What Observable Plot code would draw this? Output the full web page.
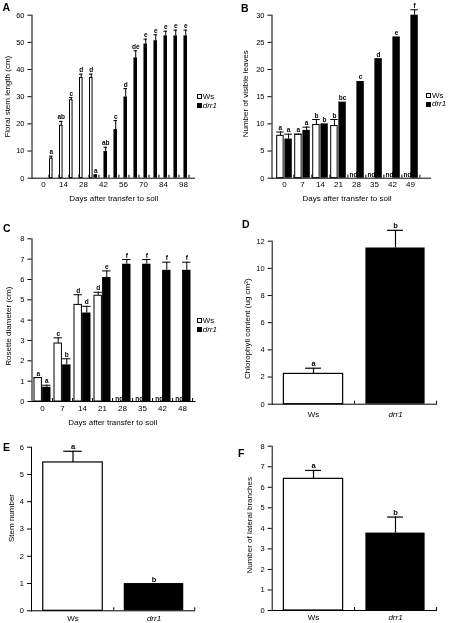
<!DOCTYPE html>
<html><head><meta charset="utf-8">
<script src="https://cdn.jsdelivr.net/npm/d3@7"></script>
<script src="https://cdn.jsdelivr.net/npm/@observablehq/plot@0.6"></script>
<style>
body{margin:0;background:#fff}
#fig{position:relative;width:462px;height:623px;font-family:"Liberation Sans",Arial,sans-serif;overflow:hidden;background:#fff;color:#000;filter:grayscale(1)}
.panel{position:absolute}
.panel svg{overflow:visible}
.letter{position:absolute;font-weight:bold;font-size:10.5px;line-height:10.5px}
.leg{position:absolute;font-size:8px;line-height:8px;display:flex;align-items:center;height:5px}
.sw{width:3px;height:3px;border:1px solid #000;margin-right:1px;box-sizing:content-box}
</style></head><body><div id="fig"></div>
<script>
// ---------- data ----------
// Panel A: floral stem length (cm)
const daysA = [0, 7, 14, 21, 28, 35, 42, 49, 56, 63, 70, 77, 84, 91, 98];
const tickDaysA = [0, 14, 28, 42, 56, 70, 84, 98];
const yTicksA = [0, 10, 20, 30, 40, 50, 60];
const wsDaysA = [7, 14, 21, 28, 35];
const wsMeanA = [7.2, 19.3, 28.7, 36.9, 36.9];
const wsErrA = [0.9, 1.6, 1.0, 1.4, 1.4];
const wsSigA = ["a", "ab", "c", "d", "d"];
const drrDaysA = [35, 42, 49, 56, 63, 70, 77, 84, 91, 98];
const drrMeanA = [1.3, 9.8, 17.9, 29.9, 44.3, 49.4, 50.6, 52.4, 52.4, 52.4];
const drrErrA = [0, 1.6, 3.3, 3.1, 2.6, 1.8, 2.2, 1.7, 2.1, 2.1];
const drrSigA = ["a", "ab", "c", "d", "de", "e", "e", "e", "e", "e"];

// Panel B: number of visible leaves
const daysB = [0, 7, 14, 21, 28, 35, 42, 49];
const yTicksB = [0, 5, 10, 15, 20, 25, 30];
const wsDaysB = [0, 7, 14, 21];
const wsMeanB = [7.8, 8.0, 9.8, 9.6];
const wsErrB = [0.7, 0.1, 1.0, 1.2];
const wsSigB = ["a", "a", "b", "b"];
const ndDaysB = [28, 35, 42, 49];
const drrMeanB = [7.2, 8.8, 10.0, 14.0, 17.8, 22.0, 26.0, 30.0];
const drrErrB = [0.9, 0.6, 0, 0, 0, 0, 0, 1.0];
const drrSigB = ["a", "a", "b", "bc", "c", "d", "e", "f"];

// Panel C: rosette diameter (cm)
const daysC = [0, 7, 14, 21, 28, 35, 42, 48];
const yTicksC = [0, 1, 2, 3, 4, 5, 6, 7, 8];
const wsDaysC = [0, 7, 14, 21];
const wsMeanC = [1.15, 2.85, 4.75, 5.2];
const wsErrC = [0.03, 0.28, 0.5, 0.17];
const wsSigC = ["a", "c", "d", "d"];
const ndDaysC = [28, 35, 42, 48];
const drrMeanC = [0.7, 1.8, 4.35, 6.1, 6.75, 6.75, 6.45, 6.45];
const drrErrC = [0.1, 0.3, 0.33, 0.32, 0.23, 0.23, 0.4, 0.4];
const drrSigC = ["a", "b", "d", "e", "f", "f", "f", "f"];

// Panels D, E, F
const genotypes = ["Ws", "drr1"];
const yTicksD = [0, 2, 4, 6, 8, 10, 12];
const meanD = [2.23, 11.5];
const errD = [0.42, 1.3];
const sigD = ["a", "b"];
const yTicksE = [0, 1, 2, 3, 4, 5, 6];
const meanE = [5.44, 1.0];
const errE = [0.41, 0];
const sigE = ["a", "b"];
const yTicksF = [0, 1, 2, 3, 4, 5, 6, 7, 8];
const meanF = [6.41, 3.77];
const errF = [0.41, 0.78];
const sigF = ["a", "b"];

// ---------- helpers ----------
const FONT = '"Liberation Sans", Arial, sans-serif';
const fig = document.getElementById("fig");

function place(el, left, top) {
  const d = document.createElement("div");
  d.className = "panel";
  d.style.left = left + "px";
  d.style.top = top + "px";
  d.appendChild(el);
  fig.appendChild(d);
}

function rows(days, mean, err, sig) {
  return days.map((day, i) => ({day, mean: mean[i], err: err[i], sig: sig[i]}));
}

function grouped(cfg) {
  const {days, ws, drr, nd = [], yTicks, tickDays, title, titleOffset, titleShift = 0,
    left, top, width, height, mL, mR, mT, mB, outer, xPad, axisExtra = 0} = cfg;
  const g = (width - mL - mR) / days.length;
  const half = g / 2;
  const off = (half - outer) / 2;
  const yMax = yTicks[yTicks.length - 1];
  const wsE = ws.filter(d => d.err > 0), drrE = drr.filter(d => d.err > 0);
  const plot = Plot.plot({
    width, height, marginLeft: mL, marginRight: mR, marginTop: mT, marginBottom: mB,
    style: {fontFamily: FONT, fontSize: "8px", color: "black", background: "transparent", overflow: "visible"},
    x: {type: "band", domain: days, padding: 0, axis: null},
    y: {domain: [0, yMax], axis: null},
    marks: [
      Plot.barY(ws, {x: "day", y: "mean", fill: "white", stroke: "black", strokeWidth: 1, insetLeft: outer + 0.5, insetRight: half + 0.5}),
      Plot.barY(drr, {x: "day", y: "mean", fill: "black", insetLeft: half, insetRight: outer}),
      Plot.ruleX(wsE, {x: "day", y1: "mean", y2: d => d.mean + d.err, dx: -off, stroke: "black"}),
      Plot.tickY(wsE, {x: "day", y: d => d.mean + d.err, insetLeft: outer, insetRight: half, stroke: "black"}),
      Plot.ruleX(drrE, {x: "day", y1: "mean", y2: d => d.mean + d.err, dx: off, stroke: "black"}),
      Plot.tickY(drrE, {x: "day", y: d => d.mean + d.err, insetLeft: half, insetRight: outer, stroke: "black"}),
      Plot.text(ws, {x: "day", y: d => d.mean + d.err, text: "sig", dx: -off, dy: -2, lineAnchor: "bottom", fontSize: 6.5, fontWeight: "bold", fill: "black"}),
      Plot.text(drr, {x: "day", y: d => d.mean + d.err, text: "sig", dx: off, dy: -2, lineAnchor: "bottom", fontSize: 6.5, fontWeight: "bold", fill: "black"}),
      Plot.text(nd, {x: d => d, y: d => 0, text: d => "nd", dx: -off + 1, dy: -1, lineAnchor: "bottom", fontSize: 6.5, fontWeight: "bold", fill: "black"}),
      Plot.frame({anchor: "left", stroke: "black"}),
      Plot.ruleY([0], {stroke: "black", insetRight: -axisExtra}),
      Plot.axisY(yTicks, {tickSize: 4, tickPadding: 3.5, fontSize: 7.5, label: null}),
      Plot.axisX(tickDays, {tickSize: 0, tickPadding: xPad, fontSize: 8, label: "Days after transfer to soil", labelAnchor: "center", labelOffset: 23, labelArrow: "none"}),
      Plot.axisX(days, {tickSize: -3, tickFormat: () => "", dx: half, label: null}),
      Plot.text([title], {frameAnchor: "left", textAnchor: "middle", rotate: -90, lineAnchor: "top", dx: -titleOffset, dy: titleShift, fontSize: 8, fill: "black"})
    ]
  });
  place(plot, left, top);
}

function pair(cfg) {
  const {mean, err, sig, yTicks, title, titleOffset, titleShift = 0,
    left, top, width, height, mL, mR, mT, mB, barW, capW, xPad} = cfg;
  const data = genotypes.map((g, i) => ({g, mean: mean[i], err: err[i], sig: sig[i]}));
  const step = (width - mL - mR) / genotypes.length;
  const inset = (step - barW) / 2;
  const capInset = (step - capW) / 2;
  const yMax = yTicks[yTicks.length - 1];
  const withErr = data.filter(d => d.err > 0);
  const plot = Plot.plot({
    width, height, marginLeft: mL, marginRight: mR, marginTop: mT, marginBottom: mB,
    style: {fontFamily: FONT, fontSize: "8px", color: "black", background: "transparent", overflow: "visible"},
    x: {type: "band", domain: genotypes, padding: 0, axis: null},
    y: {domain: [0, yMax], axis: null},
    marks: [
      Plot.barY(data.filter(d => d.g === "Ws"), {x: "g", y: "mean", fill: "white", stroke: "black", strokeWidth: 1.2, insetLeft: inset, insetRight: inset}),
      Plot.barY(data.filter(d => d.g !== "Ws"), {x: "g", y: "mean", fill: "black", insetLeft: inset, insetRight: inset}),
      Plot.ruleX(withErr, {x: "g", y1: "mean", y2: d => d.mean + d.err, stroke: "black", strokeWidth: 1.2}),
      Plot.tickY(withErr, {x: "g", y: d => d.mean + d.err, insetLeft: capInset, insetRight: capInset, stroke: "black", strokeWidth: 1.2}),
      Plot.text(data, {x: "g", y: d => d.mean + d.err, text: "sig", dy: -2, lineAnchor: "bottom", fontSize: 7.5, fontWeight: "bold", fill: "black"}),
      Plot.frame({anchor: "left", stroke: "black"}),
      Plot.frame({anchor: "bottom", stroke: "black"}),
      Plot.axisY(yTicks, {tickSize: 4, tickPadding: 3.5, fontSize: 7.5, label: null}),
      Plot.axisX(["Ws"], {tickSize: 0, tickPadding: xPad, fontSize: 8, label: null}),
      Plot.axisX(["drr1"], {tickSize: 0, tickPadding: xPad, fontSize: 8, fontStyle: "italic", label: null}),
      Plot.axisX(genotypes, {tickSize: -3, tickFormat: () => "", dx: step / 2, label: null}),
      Plot.text([title], {frameAnchor: "left", textAnchor: "middle", rotate: -90, lineAnchor: "top", dx: -titleOffset, dy: titleShift, fontSize: 8, fill: "black"})
    ]
  });
  place(plot, left, top);
}

// ---------- panels ----------
grouped({
  days: daysA, tickDays: tickDaysA, yTicks: yTicksA,
  ws: rows(wsDaysA, wsMeanA, wsErrA, wsSigA),
  drr: rows(drrDaysA, drrMeanA, drrErrA, drrSigA),
  title: "Floral stem length (cm)", titleOffset: 27.5,
  left: 0, top: 0, width: 231, height: 205, mL: 31.5, mR: 36, mT: 14.7, mB: 27.3, outer: 1, xPad: 3.5
});
grouped({
  days: daysB, tickDays: daysB, yTicks: yTicksB,
  ws: rows(wsDaysB, wsMeanB, wsErrB, wsSigB),
  drr: rows(daysB, drrMeanB, drrErrB, drrSigB), nd: ndDaysB,
  title: "Number of visible leaves", titleOffset: 30, titleShift: -3,
  left: 231, top: 0, width: 231, height: 205, mL: 40.5, mR: 40.5, mT: 14.7, mB: 27.3, outer: 1.2, xPad: 3.5, axisExtra: 9.5
});
grouped({
  days: daysC, tickDays: daysC, yTicks: yTicksC,
  ws: rows(wsDaysC, wsMeanC, wsErrC, wsSigC),
  drr: rows(daysC, drrMeanC, drrErrC, drrSigC), nd: ndDaysC,
  title: "Rosette diameter (cm)", titleOffset: 27, titleShift: 6,
  left: 0, top: 210, width: 231, height: 220, mL: 31.5, mR: 38, mT: 28.3, mB: 29, outer: 1.5, xPad: 3.5, axisExtra: 2.5
});
pair({
  mean: meanD, err: errD, sig: sigD, yTicks: yTicksD,
  title: "Chlorophyll content (ug cm\u00B2)", titleOffset: 28.2, titleShift: 6,
  left: 231, top: 210, width: 231, height: 220, mL: 40.7, mR: 26, mT: 30.7, mB: 26.3, barW: 59.4, capW: 16, xPad: 7
});
pair({
  mean: meanE, err: errE, sig: sigE, yTicks: yTicksE,
  title: "Stem number", titleOffset: 23.5, titleShift: -11,
  left: 0, top: 430, width: 231, height: 193, mL: 31, mR: 37, mT: 16.7, mB: 12.7, barW: 60, capW: 19, xPad: 4.5
});
pair({
  mean: meanF, err: errF, sig: sigF, yTicks: yTicksF,
  title: "Number of lateral branches", titleOffset: 26.2, titleShift: -3,
  left: 231, top: 430, width: 231, height: 193, mL: 40.7, mR: 26, mT: 15.7, mB: 13, barW: 59.4, capW: 16, xPad: 4
});

// ---------- panel letters ----------
const letters = [["A", 2.5, 1.6], ["B", 241, 2.6], ["C", 3, 222.6], ["D", 242, 219.3], ["E", 3, 441.9], ["F", 238, 447.9]];
for (const [t, x, y] of letters) {
  const d = document.createElement("div");
  d.className = "letter";
  d.textContent = t;
  d.style.left = x + "px";
  d.style.top = y + "px";
  fig.appendChild(d);
}

// ---------- legends ----------
const legendRows = [
  ["Ws", 196.7, 94.3], ["drr1", 196.7, 103.3],
  ["Ws", 426, 93.3], ["drr1", 426, 101.7],
  ["Ws", 196.7, 318.3], ["drr1", 196.7, 327]
];
for (const [name, x, y] of legendRows) {
  const row = document.createElement("div");
  row.className = "leg";
  row.style.left = x + "px";
  row.style.top = y + "px";
  const sw = document.createElement("span");
  sw.className = "sw";
  sw.style.background = name === "Ws" ? "#fff" : "#000";
  const tx = document.createElement("span");
  tx.textContent = name;
  if (name !== "Ws") tx.style.fontStyle = "italic";
  row.appendChild(sw);
  row.appendChild(tx);
  fig.appendChild(row);
}
</script>
</body></html>
